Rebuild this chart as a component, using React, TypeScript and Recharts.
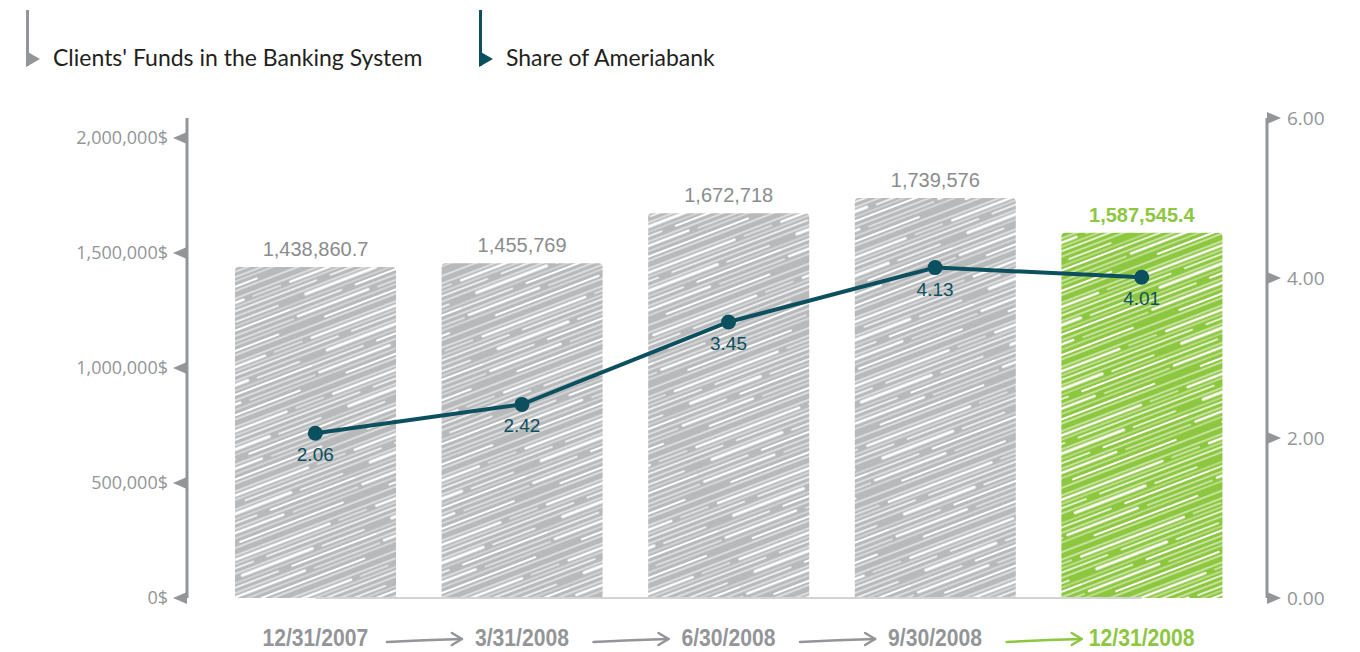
import { Bar, Cell, ComposedChart, LabelList, Line, ReferenceLine, XAxis, YAxis } from "recharts";

const PERIODS = ["12/31/2007", "3/31/2008", "6/30/2008", "9/30/2008", "12/31/2008"];
const CLIENT_FUNDS = [1438860.7, 1455769, 1672718, 1739576, 1587545.4];
const AMERIA_SHARE = [2.06, 2.42, 3.45, 4.13, 4.01];
const LEFT_TICKS = [0, 500000, 1000000, 1500000, 2000000];
const RIGHT_TICKS = [0, 2, 4, 6];

const GRAY = "#939598";
const BAR_GRAY = "#b7b9bb";
const GREEN = "#8dc63f";
const TEAL = "#0c4f5e";
const LAST = PERIODS.length - 1;

const data = PERIODS.map((period, i) => ({ period, funds: CLIENT_FUNDS[i], share: AMERIA_SHARE[i] }));

// white streaks drawn inside each pattern tile: [x1, x2, y, width]
const STREAKS = [
  [0, 160, 3, 1.1], [10, 120, 7, 2.4], [130, 160, 7, 1.2], [0, 160, 11, 0.8], [50, 160, 15, 1.7],
  [0, 35, 15, 1.7], [0, 160, 20, 1.0], [20, 95, 24, 3.0], [105, 150, 25, 1.4], [0, 160, 29, 0.7],
  [70, 160, 33, 1.9], [0, 55, 33, 1.6], [0, 160, 38, 1.2], [5, 80, 42, 2.6], [90, 160, 43, 1.0],
  [0, 160, 47, 0.8], [30, 140, 52, 2.0], [0, 160, 56, 1.0],
];

function Scribble({ id, base }: { id: string; base: string }) {
  return (
    <pattern id={id} patternUnits="userSpaceOnUse" width={160} height={60} patternTransform="rotate(-21)">
      <rect width={160} height={60} fill={base} />
      {STREAKS.map(([x1, x2, y, w], i) => (
        <line key={i} x1={x1} x2={x2} y1={y} y2={y} stroke="#fff" strokeWidth={w} strokeLinecap="round" />
      ))}
    </pattern>
  );
}

const fmtFunds = (v: number) => v.toLocaleString("en-US", { maximumFractionDigits: 1 });

// eslint-disable-next-line @typescript-eslint/no-explicit-any
function LeftTick({ x, y, payload }: any) {
  return (
    <g>
      <path d={`M${x} ${y - 6} L${x - 14} ${y} L${x} ${y + 6} Z`} fill={GRAY} />
      <text x={x - 19} y={y} dy={6} textAnchor="end" fontSize={18} fill={GRAY} fontFamily="'Open Sans', sans-serif">
        {payload.value.toLocaleString("en-US")}$
      </text>
    </g>
  );
}

// eslint-disable-next-line @typescript-eslint/no-explicit-any
function RightTick({ x, y, payload }: any) {
  return (
    <g>
      <path d={`M${x} ${y - 6} L${x + 14} ${y} L${x} ${y + 6} Z`} fill={GRAY} />
      <text x={x + 20} y={y} dy={7} textAnchor="start" fontSize={19} fill={GRAY} fontFamily="'Open Sans', sans-serif">
        {payload.value.toFixed(2)}
      </text>
    </g>
  );
}

// eslint-disable-next-line @typescript-eslint/no-explicit-any
function PeriodTick({ x, y, payload, index }: any) {
  const color = index === LAST ? GREEN : GRAY;
  const ay = y + 40;
  const x0 = x - 135;
  const x1 = x - 60;
  return (
    <g>
      {index > 0 && (
        <g stroke={color} strokeWidth={2.5} fill="none" strokeLinecap="round" strokeLinejoin="round">
          <path d={`M${x0} ${ay + 2} Q${(x0 + x1) / 2} ${ay} ${x1} ${ay - 1}`} />
          <path d={`M${x1 - 10} ${ay - 7} L${x1} ${ay - 1} L${x1 - 10} ${ay + 5}`} />
        </g>
      )}
      <g transform={`translate(${x} ${y + 46}) scale(0.92 1)`}>
        <text
          x={0}
          y={0}
          textAnchor="middle"
          fontSize={23}
          fontWeight="bold"
          fill={color}
          fontFamily="'Liberation Sans', Arial, sans-serif"
        >
          {payload.value}
        </text>
      </g>
    </g>
  );
}

// eslint-disable-next-line @typescript-eslint/no-explicit-any
function FundsLabel({ x, y, width, value, index }: any) {
  const last = index === LAST;
  return (
    <text
      x={x + width / 2}
      y={y - 11}
      textAnchor="middle"
      fontSize={20}
      fontWeight={last ? "bold" : "normal"}
      fill={last ? GREEN : "#8a8c8e"}
      fontFamily="'Liberation Sans', Arial, sans-serif"
    >
      {fmtFunds(value)}
    </text>
  );
}

// eslint-disable-next-line @typescript-eslint/no-explicit-any
function ShareLabel({ x, y, value }: any) {
  return (
    <text x={x} y={y + 28} textAnchor="middle" fontSize={19} fill={TEAL} fontFamily="'Liberation Sans', Arial, sans-serif">
      {value.toFixed(2)}
    </text>
  );
}

function LegendItem({ left, color, label }: { left: number; color: string; label: string }) {
  return (
    <div style={{ position: "absolute", left, top: 10, height: 58 }}>
      <svg width={16} height={58} style={{ position: "absolute", left: 0, top: 0 }}>
        <line x1={1.5} x2={1.5} y1={0} y2={56} stroke={color} strokeWidth={3} />
        <path d="M0 41 L14 49 L0 57 Z" fill={color} />
      </svg>
      <div
        style={{
          position: "absolute",
          left: 27,
          top: 33,
          whiteSpace: "nowrap",
          fontFamily: "Lato, sans-serif",
          fontSize: 23,
          color: "#231f20",
        }}
      >
        {label}
      </div>
    </div>
  );
}

export default function App() {
  return (
    <div style={{ position: "absolute", left: 0, top: 0, width: 1360, height: 652, background: "#fff" }}>
      <LegendItem left={26} color={GRAY} label="Clients' Funds in the Banking System" />
      <LegendItem left={479} color={TEAL} label="Share of Ameriabank" />
      <ComposedChart width={1360} height={652} data={data} margin={{ top: 118, right: 13, bottom: 0, left: 67 }}>
        <defs>
          <Scribble id="scribbleGray" base={BAR_GRAY} />
          <Scribble id="scribbleGreen" base={GREEN} />
        </defs>
        <XAxis
          dataKey="period"
          padding={{ left: 25, right: 22 }}
          axisLine={false}
          tickLine={false}
          tickSize={0}
          height={54}
          interval={0}
          tick={<PeriodTick />}
        />
        <YAxis
          yAxisId="left"
          orientation="left"
          width={120}
          domain={[0, 2087000]}
          ticks={LEFT_TICKS}
          axisLine={{ stroke: GRAY, strokeWidth: 3 }}
          tickLine={false}
          tickSize={0}
          tickMargin={0}
          tick={<LeftTick />}
        />
        <YAxis
          yAxisId="right"
          orientation="right"
          width={80}
          domain={[0, 6]}
          ticks={RIGHT_TICKS}
          axisLine={{ stroke: GRAY, strokeWidth: 3 }}
          tickLine={false}
          tickSize={0}
          tickMargin={0}
          tick={<RightTick />}
        />
        <ReferenceLine
          yAxisId="left"
          segment={[
            { x: PERIODS[0], y: 0 },
            { x: PERIODS[LAST], y: 0 },
          ]}
          stroke="#d1d3d4"
          strokeWidth={2}
        />
        <Bar yAxisId="left" dataKey="funds" barSize={161} radius={[4, 4, 0, 0]} isAnimationActive={false}>
          {data.map((d, i) => (
            <Cell key={d.period} fill={i === LAST ? "url(#scribbleGreen)" : "url(#scribbleGray)"} />
          ))}
          <LabelList dataKey="funds" content={<FundsLabel />} />
        </Bar>
        <Line
          yAxisId="right"
          dataKey="share"
          stroke={TEAL}
          strokeWidth={4}
          dot={{ r: 7.5, fill: TEAL, stroke: TEAL, strokeWidth: 0 }}
          activeDot={false}
          isAnimationActive={false}
        >
          <LabelList dataKey="share" content={<ShareLabel />} />
        </Line>
      </ComposedChart>
    </div>
  );
}
